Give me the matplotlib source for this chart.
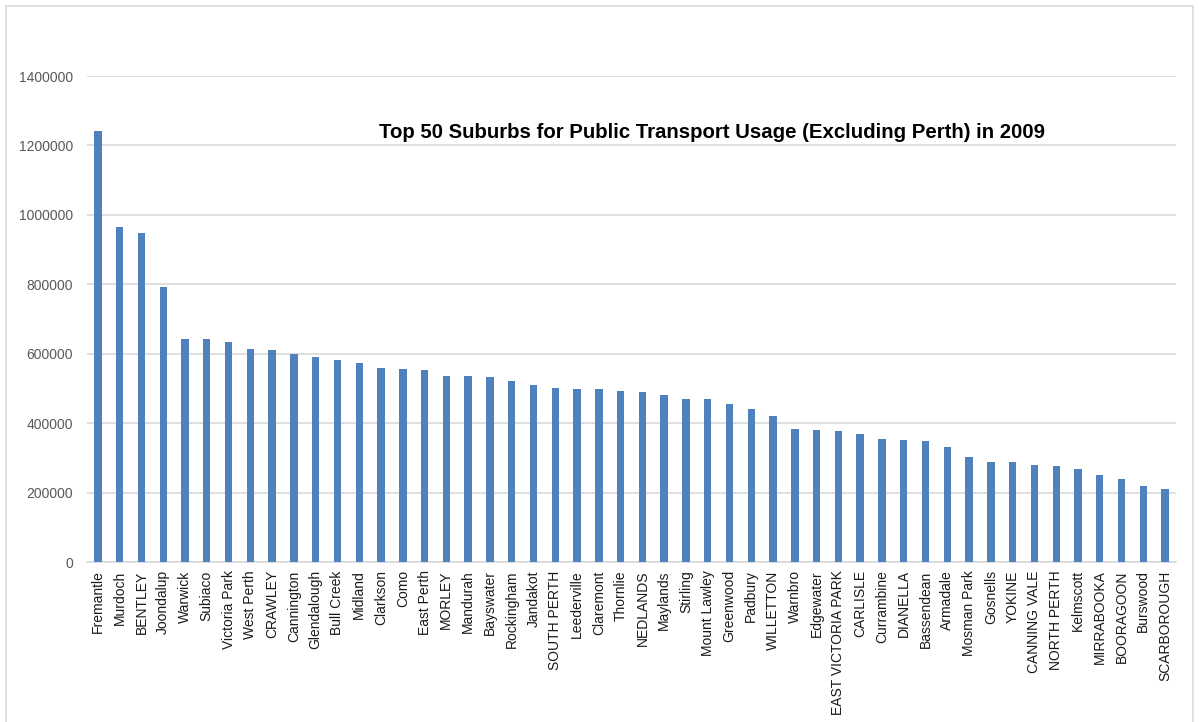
import matplotlib.pyplot as plt
from matplotlib.patches import Rectangle

# suburbs and 2009 usage
suburbs = [
    'Fremantle', 'Murdoch', 'BENTLEY', 'Joondalup', 'Warwick', 'Subiaco',
    'Victoria Park', 'West Perth', 'CRAWLEY', 'Cannington', 'Glendalough',
    'Bull Creek', 'Midland', 'Clarkson', 'Como', 'East Perth', 'MORLEY',
    'Mandurah', 'Bayswater', 'Rockingham', 'Jandakot', 'SOUTH PERTH',
    'Leederville', 'Claremont', 'Thornlie', 'NEDLANDS', 'Maylands',
    'Stirling', 'Mount Lawley', 'Greenwood', 'Padbury', 'WILLETTON',
    'Warnbro', 'Edgewater', 'EAST VICTORIA PARK', 'CARLISLE', 'Currambine',
    'DIANELLA', 'Bassendean', 'Armadale', 'Mosman Park', 'Gosnells',
    'YOKINE', 'CANNING VALE', 'NORTH PERTH', 'Kelmscott', 'MIRRABOOKA',
    'BOORAGOON', 'Burswood', 'SCARBOROUGH',
]
usage = [
    1243000, 965000, 949000, 791000, 643000, 643000,
    635000, 615000, 610000, 598000, 590000,
    582000, 574000, 558000, 557000, 553000, 537000,
    537000, 533000, 521000, 509000, 501000,
    497000, 497000, 494000, 489000, 481000,
    469000, 469000, 456000, 441000, 421000,
    384000, 380000, 376000, 368000, 355000,
    352000, 348000, 332000, 303000, 287000,
    287000, 280000, 276000, 267000, 252000,
    239000, 219000, 211000,
]
yticks = [0, 200000, 400000, 600000, 800000, 1000000, 1200000, 1400000]

plt.rcParams['font.family'] = ['Liberation Sans', 'DejaVu Sans']

fig = plt.figure(figsize=(11.99, 7.22), dpi=100)
ax = fig.add_axes([87 / 1199, 1 - 562 / 722, 1089 / 1199, 486 / 722])

# chart border (open at the bottom, like the screenshot)
fig.patches.append(Rectangle(
    (6 / 1199, -0.05), 1187 / 1199, 1.05 - 6 / 722,
    transform=fig.transFigure, fill=False, edgecolor='#d9d9d9', linewidth=1.2
))

ax.bar(range(len(suburbs)), usage, width=0.34, color='#4f81bd', zorder=3)

ax.set_xlim(-0.5, len(suburbs) - 0.5)
ax.set_ylim(0, 1400000)
ax.set_yticks(yticks)
ax.set_yticklabels([str(v) for v in yticks], color='#595959', fontsize=10)
ax.set_xticks(range(len(suburbs)))
ax.set_xticklabels(suburbs, rotation=90, fontsize=10, color='#1a1a1a')
ax.tick_params(length=0)
ax.tick_params(axis='y', pad=10)
ax.tick_params(axis='x', pad=6)

ax.grid(axis='y', color='#d9d9d9', linewidth=1.2, zorder=0)
for s in ['top', 'right', 'left']:
    ax.spines[s].set_visible(False)
ax.spines['bottom'].set_color('#d9d9d9')
ax.spines['bottom'].set_linewidth(1.2)

ax.text(0.5735, 0.883, 'Top 50 Suburbs for Public Transport Usage (Excluding Perth) in 2009',
        transform=ax.transAxes, ha='center', va='center',
        fontsize=14.7, fontweight='bold', color='black')

fig.savefig('out.png', dpi=100)
